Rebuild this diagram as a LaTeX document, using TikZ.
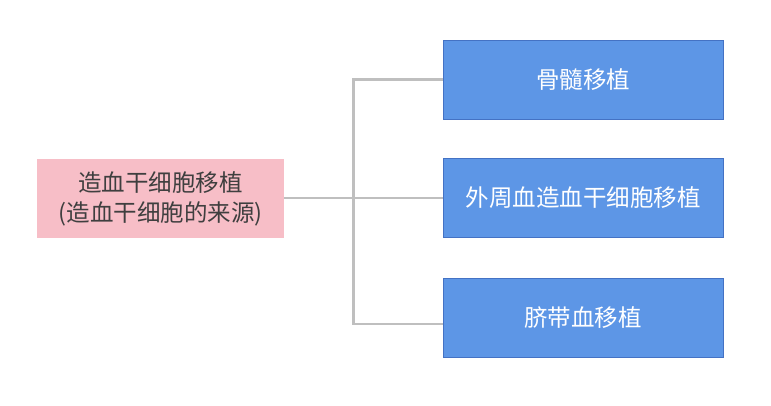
\documentclass[tikz,border=0pt]{standalone}
\usepackage{fontspec}
\newfontfamily\cjk{Noto Sans CJK SC}
\definecolor{pinkbox}{HTML}{F7BEC7}
\definecolor{bluebox}{HTML}{5D96E6}
\definecolor{blueedge}{HTML}{4472C4}
\definecolor{linegray}{HTML}{BFBFBF}
\definecolor{textgray}{HTML}{3F3F3F}
\begin{document}
\begin{tikzpicture}[x=1pt,y=-1pt,
  src/.style={fill=pinkbox,draw=none,minimum width=247pt,minimum height=79pt,inner sep=0pt,align=center,text=textgray,font=\cjk\fontsize{23.5}{30}\selectfont},
  dst/.style={fill=bluebox,draw=blueedge,line width=0.8pt,minimum width=280pt,minimum height=79pt,inner sep=0pt,text=white,font=\cjk\fontsize{23.5}{30}\selectfont},
  conn/.style={draw=linegray,line width=2.4pt}]
\useasboundingbox (0,0) rectangle (771,406);
\node[src] (s) at (160.5,198.5) {造血干细胞移植\\(造血干细胞的来源)};
\node[dst] (a) at (583,79.5) {骨髓移植};
\node[dst] (b) at (583,197.5) {外周血造血干细胞移植};
\node[dst] (c) at (583,317.5) {脐带血移植};
\coordinate (j) at (353.5,198);
\coordinate (cin) at (443,324);
\draw[conn] (s.east |- j) -- (j);
\draw[conn] (a.west) -| (j) |- (cin);
\draw[conn] (j) -- (b.west |- j);
\end{tikzpicture}
\end{document}
